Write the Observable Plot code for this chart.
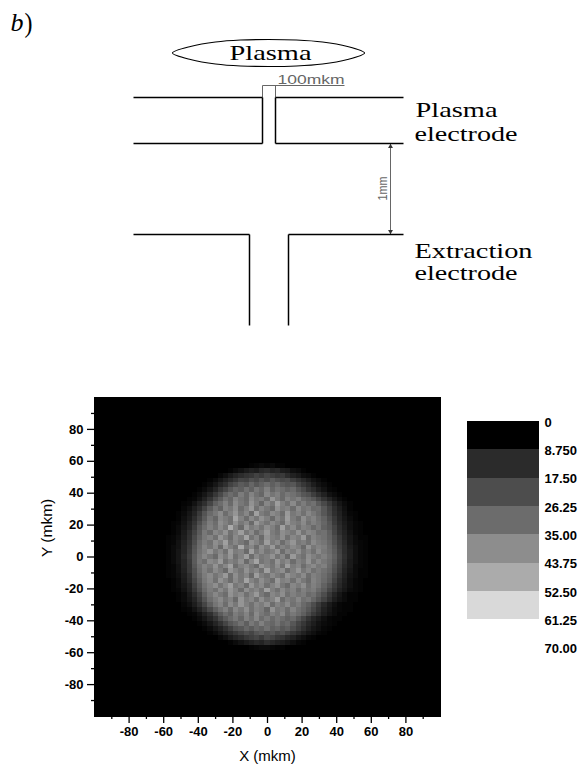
<!DOCTYPE html>
<html>
<head>
<meta charset="utf-8">
<script src="https://cdn.jsdelivr.net/npm/d3@7"></script>
<script src="https://cdn.jsdelivr.net/npm/@observablehq/plot@0.6"></script>
<style>
html,body{margin:0;padding:0;background:#fff}
#page{position:relative;width:583px;height:764px;overflow:hidden}
#page svg{position:absolute;display:block;background:transparent;max-width:none}
</style>
</head>
<body>
<div id="page"></div>
<script>
// Schematic (diagram units, origin top-left)
const electrodeSegments = [
  [133,97,262,97],[275,97,403,97],[133,143,262,143],[275,143,403,143],
  [262,97,262,143],[275,97,275,143],
  [133,234,249,234],[288,234,403,234],[249,234,249,325],[288,234,288,325]
];
const dimensionSegments = [[262,85,344,85],[262,85,262,97],[275,85,275,97],[390,143,390,234]];
const dimensionArrows = [{x:390,y:146,r:0},{x:390,y:231,r:180}];
const plasmaOutline = [[172,52.5],[190,46],[215,41.5],[240,39.5],[268,39],[296,39.5],[322,41.5],[347,46],[364,52.5],[347,59],[322,63.5],[296,65.5],[268,66],[240,65.5],[215,63.5],[190,59]];
const serifLabels = [
  {t:"Plasma",x:229,y:53,w:82,s:21},
  {t:"Plasma",x:415,y:110,w:82,s:21},
  {t:"electrode",x:414,y:134,w:103,s:21},
  {t:"Extraction",x:414,y:251,w:118,s:21},
  {t:"electrode",x:414,y:273,w:103,s:21},
  {t:")",x:24,y:23,w:8,s:27}
];
const widthLabel = {t:"100mkm",x:277,y:79.5,w:67};
const gapLabel = {t:"1mm",x:382,y:188,w:24};

// Heat map: 3 mkm cells, rows from Y=57 down to Y=-57, each row centred on X=0
const heatRowY = [57,54,51,48,45,42,39,36,33,30,27,24,21,18,15,12,9,6,3,0,-3,-6,-9,-12,-15,-18,-21,-24,-27,-30,-33,-36,-39,-42,-45,-48,-51,-54,-57];
const heatRows = [
[1,2,3,2,3,1,1],
[1,3,5,7,9,8,11,12,10,11,8,7,4,3,1],
[2,4,7,10,12,14,15,18,16,19,17,15,16,12,9,7,4,3,1],
[1,3,6,9,12,15,19,18,22,20,24,21,25,22,20,21,17,14,11,8,5,3,1],
[1,3,6,10,13,18,21,25,23,28,24,27,30,26,29,25,23,24,19,15,12,8,5,3,1],
[1,3,6,10,15,19,24,28,26,31,27,33,29,35,28,32,30,27,29,24,20,15,12,8,5,2,1],
[1,3,6,10,15,20,26,30,27,34,29,36,31,28,37,32,35,29,33,31,28,24,22,17,13,9,5,3,1],
[1,2,5,9,14,20,25,31,28,36,32,29,38,33,35,30,41,34,29,36,32,35,29,27,24,19,14,10,6,3,1],
[1,2,5,9,13,19,26,30,35,29,38,33,30,40,34,28,37,32,43,35,31,38,30,34,29,31,25,20,15,10,6,3,1],
[2,4,8,12,18,25,31,27,36,33,39,30,35,42,31,37,33,29,40,34,36,30,38,32,34,29,30,24,18,12,8,4,1],
[1,3,6,10,16,23,29,33,38,30,35,41,32,37,29,44,34,31,38,35,30,42,33,36,31,37,33,29,24,19,13,9,5,2,1],
[1,4,7,12,18,25,32,28,37,34,31,45,36,30,38,33,40,35,29,37,32,43,34,30,39,33,36,31,27,21,15,10,6,3,1],
[1,2,5,9,14,21,28,34,30,39,35,31,40,33,37,29,42,36,32,38,34,30,41,35,33,38,31,35,32,28,23,16,11,7,4,2,1],
[1,3,6,10,16,24,30,35,31,38,33,47,36,29,41,34,37,32,39,35,30,44,33,38,31,36,34,29,33,27,24,18,12,8,4,2,1],
[1,3,7,12,18,25,33,29,37,34,40,31,36,43,33,38,30,35,42,34,31,39,36,33,40,32,37,35,30,31,26,19,13,9,5,2,1],
[1,2,4,8,13,20,27,33,36,31,41,35,30,38,34,45,32,37,29,40,35,33,39,31,37,34,42,30,36,33,31,27,21,15,10,6,3,1,1],
[1,2,5,9,14,21,29,34,31,39,35,44,32,37,33,29,40,36,31,43,34,38,30,36,41,33,35,31,38,34,32,28,22,16,11,6,3,2,1],
[1,3,5,10,15,23,30,36,32,38,29,41,35,31,46,33,37,30,39,34,42,31,36,33,38,35,29,40,33,36,34,29,24,17,12,7,4,2,1],
[1,3,6,10,16,24,31,35,40,33,37,31,42,34,36,29,44,33,38,32,35,41,30,37,34,39,32,36,31,38,33,30,25,18,12,8,4,2,1],
[1,3,6,11,17,25,32,37,33,29,39,34,41,31,36,43,30,38,33,35,40,32,37,29,42,34,31,39,35,32,35,31,26,19,13,8,4,2,1],
[1,3,6,10,16,25,33,30,38,35,42,31,36,33,39,29,37,45,32,35,31,41,34,38,30,36,33,40,32,37,33,30,25,18,12,7,4,2,1],
[1,2,5,10,15,24,31,36,33,40,32,37,44,30,35,38,33,29,41,36,32,39,31,43,34,37,30,35,38,33,35,29,23,17,11,7,3,2,1],
[1,2,5,9,15,22,30,35,31,38,34,29,41,36,32,40,34,37,31,44,33,36,39,30,35,41,33,37,31,34,31,28,22,16,10,6,3,1,1],
[1,2,4,8,13,21,28,34,38,32,36,42,30,39,33,37,29,43,35,32,38,34,31,40,36,33,38,30,35,33,30,26,20,14,9,5,3,1,1],
[1,3,7,12,19,26,33,37,31,40,35,30,38,33,45,36,32,39,34,30,42,35,37,31,38,33,29,36,33,29,25,18,12,8,4,2,1],
[1,3,6,10,17,24,31,35,39,32,37,43,33,36,30,41,34,38,31,36,40,33,29,37,34,39,31,35,32,27,22,16,11,7,4,2,1],
[1,2,5,9,15,22,29,34,31,38,33,41,36,30,39,34,37,32,44,35,31,38,33,36,30,35,32,34,29,25,19,14,9,6,3,2,1],
[1,3,7,12,18,26,32,37,33,30,40,35,38,31,36,42,33,29,37,34,39,31,35,32,34,29,31,26,21,15,10,6,3,1,1],
[1,3,6,10,16,23,30,34,38,32,36,29,41,34,37,31,39,33,36,43,30,35,32,37,31,33,28,23,18,13,8,5,3,1,1],
[2,4,8,13,19,26,32,36,30,38,33,41,35,31,37,34,39,30,36,33,38,31,34,29,26,21,16,11,7,4,2,1,1],
[1,2,5,9,14,20,26,31,35,29,37,33,39,31,36,34,28,40,33,35,30,36,31,28,24,19,14,9,6,3,2,1,1],
[1,2,5,9,13,19,25,30,27,34,31,36,29,38,33,30,35,32,37,29,33,30,26,21,16,12,8,5,3,1,1],
[1,3,6,10,14,20,25,29,33,28,35,31,37,30,34,29,33,30,27,29,24,19,14,10,7,4,2,1,1],
[1,3,6,10,14,19,24,27,31,26,33,29,35,30,28,32,27,29,24,19,15,11,8,5,3,2,1],
[1,3,6,9,13,17,22,24,28,25,29,27,31,26,28,24,26,21,17,13,9,6,4,2,1],
[1,3,6,9,12,15,18,21,19,23,25,22,24,20,22,18,15,12,9,6,4,2,1],
[2,4,7,10,12,15,17,19,16,20,18,15,14,11,9,6,4,2,1],
[1,3,5,7,9,11,10,13,11,9,8,6,4,2,1],
[1,2,3,3,2,1,1]
];
const majorTicks = [-80,-60,-40,-20,0,20,40,60,80];
const minorTicks = [-90,-70,-50,-30,-10,10,30,50,70,90];

// Colour key
const keyBreaks = [0,8.75,17.5,26.25,35,43.75,52.5,61.25,70];
const keyLabels = ["0","8.750","17.50","26.25","35.00","43.75","52.50","61.25","70.00"];
const keyFills = ["#000000","#2b2b2b","#4d4d4d","#6c6c6c","#8d8d8d","#ababab","#d9d9d9"];

const page = document.getElementById("page");
function place(svg, left, top){ svg.style.left = left+"px"; svg.style.top = top+"px"; page.appendChild(svg); return svg; }

// --- schematic ---
const seg = a => ({x1:a[0],y1:a[1],x2:a[2],y2:a[3]});
const diagram = Plot.plot({
  width:583,height:380,margin:0,
  x:{domain:[0,583],range:[0,583],axis:null},
  y:{domain:[0,380],range:[0,380],axis:null},
  marks:[
    Plot.link(dimensionSegments.map(seg),{x1:"x1",y1:"y1",x2:"x2",y2:"y2",stroke:"#666",strokeWidth:1}),
    Plot.dot(dimensionArrows,{x:"x",y:"y",rotate:"r",symbol:"triangle",r:1.8,fill:"#333"}),
    Plot.link(electrodeSegments.map(seg),{x1:"x1",y1:"y1",x2:"x2",y2:"y2",stroke:"#000",strokeWidth:1.5}),
    Plot.line(plasmaOutline,{x:d=>d[0],y:d=>d[1],curve:"cardinal-closed",stroke:"#000",strokeWidth:1.1,fill:"#fff"}),
    Plot.text(["b"],{x:10,y:22,text:d=>d,fontFamily:"Liberation Serif",fontStyle:"italic",fontSize:26,textAnchor:"start",lineAnchor:"middle",fill:"#000"}),
    Plot.text(serifLabels,{x:"x",y:"y",text:"t",fontSize:"s",fontFamily:"Liberation Serif",textAnchor:"start",lineAnchor:"middle",fill:"#000"}),
    Plot.text([widthLabel],{x:"x",y:"y",text:"t",fontFamily:"Liberation Sans",fontSize:12.5,textAnchor:"start",lineAnchor:"middle",fill:"#666"}),
    Plot.text([gapLabel],{x:"x",y:"y",text:"t",rotate:-90,fontFamily:"Liberation Sans",fontSize:13,textAnchor:"middle",lineAnchor:"middle",fill:"#666"})
  ]
});
const widths = [null,...serifLabels.map(d=>d.w),widthLabel.w,gapLabel.w];
diagram.querySelectorAll("text").forEach((el,i)=>{
  if(widths[i]){ el.setAttribute("textLength",widths[i]); el.setAttribute("lengthAdjust","spacingAndGlyphs"); }
});
place(diagram,0,0);

// --- heat map ---
const cells = heatRows.flatMap((row,r)=>row.map((v,i)=>({x:-1.5*(row.length-1)+3*i,y:heatRowY[r],v})));
const axisFont = {fontFamily:"Liberation Sans",fontWeight:"bold",fontSize:13,fill:"#000",strokeWidth:1.3,tickFormat:d=>String(d)};
const heat = Plot.plot({
  width:583,height:384,
  marginLeft:94,marginRight:143,marginTop:17,marginBottom:48,
  x:{domain:[-100,100],label:null},
  y:{domain:[-100,100],label:null},
  color:{type:"linear",domain:[0,70],range:["#000","#fff"]},
  style:{fontFamily:"Liberation Sans",color:"#000",background:"transparent"},
  marks:[
    Plot.frame({fill:"#000",stroke:"#000"}),
    Plot.rect(cells,{x1:d=>d.x-1.5,x2:d=>d.x+1.5,y1:d=>d.y-1.5,y2:d=>d.y+1.5,fill:"v",shapeRendering:"crispEdges"}),
    Plot.axisX({ticks:minorTicks,tickSize:3,tickFormat:()=>"",strokeWidth:1.3,label:null}),
    Plot.axisY({ticks:minorTicks,tickSize:3,tickFormat:()=>"",strokeWidth:1.3,label:null}),
    Plot.axisX({ticks:majorTicks,tickSize:7,tickPadding:3,label:null,...axisFont}),
    Plot.axisY({ticks:majorTicks,tickSize:7,tickPadding:4,label:null,...axisFont}),
    Plot.text(["X (mkm)"],{frameAnchor:"bottom",dy:40,text:d=>d,fontFamily:"Liberation Sans",fontSize:15,lineAnchor:"middle",fill:"#000"}),
    Plot.text(["Y (mkm)"],{frameAnchor:"left",dx:-47,rotate:-90,text:d=>d,fontFamily:"Liberation Sans",fontSize:15.5,lineAnchor:"middle",fill:"#000"})
  ]
});
place(heat,0,380);

// --- colour key ---
const keyBands = keyFills.map((f,i)=>({y1:keyBreaks[i],y2:keyBreaks[i+1],f}));
const key = Plot.plot({
  width:120,height:384,margin:0,
  x:{domain:[0,1],range:[6.5,79],axis:null},
  y:{domain:[0,70],range:[41,267.7],axis:null},
  style:{background:"transparent"},
  marks:[
    Plot.rect(keyBands,{x1:0,x2:1,y1:"y1",y2:"y2",fill:"f",shapeRendering:"crispEdges"}),
    Plot.text(keyBreaks,{x:1,y:d=>d,dx:5,dy:1,text:(d,i)=>keyLabels[i],textAnchor:"start",lineAnchor:"middle",fontFamily:"Liberation Sans",fontWeight:"bold",fontSize:13,fill:"#000"})
  ]
});
place(key,460,380);
</script>
</body>
</html>
